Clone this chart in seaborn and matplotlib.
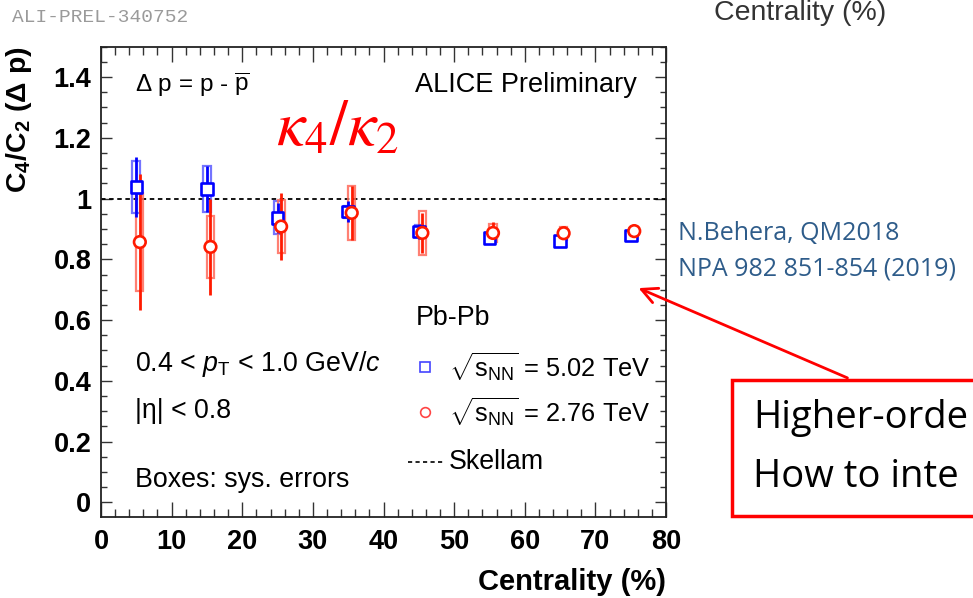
import numpy as np
import pandas as pd
import matplotlib
matplotlib.use("Agg")
import matplotlib.pyplot as plt
import seaborn as sns
from matplotlib.patches import Rectangle, FancyArrowPatch
from matplotlib.ticker import MultipleLocator

# ---- data: net-proton C4/C2 vs centrality ----
centrality = [5, 15, 25, 35, 45, 55, 65, 75]

c4c2_502 = [1.038, 1.032, 0.937, 0.957, 0.892, 0.870, 0.860, 0.879]
stat_502 = [0.100, 0.075, 0.050, 0.035, 0.025, 0.015, 0.012, 0.010]
sys_502 = [0.085, 0.075, 0.055, 0.020, 0.020, 0.015, 0.012, 0.010]

c4c2_276 = [0.857, 0.841, 0.908, 0.953, 0.887, 0.887, 0.886, 0.893]
stat_276 = [0.225, 0.157, 0.110, 0.090, 0.065, 0.037, 0.025, 0.012]
sys_276 = [0.160, 0.103, 0.086, 0.090, 0.072, 0.030, 0.022, 0.012]

skellam = 1.0

x_ticks = [0, 10, 20, 30, 40, 50, 60, 70, 80]
y_ticks = [0, 0.2, 0.4, 0.6, 0.8, 1.0, 1.2, 1.4]
y_tick_labels = ["0", "0.2", "0.4", "0.6", "0.8", "1", "1.2", "1.4"]

# ---- style ----
sns.set_theme(style="ticks")
plt.rcParams["font.family"] = ["Liberation Sans", "DejaVu Sans"]
plt.rcParams["mathtext.fontset"] = "custom"
plt.rcParams["mathtext.rm"] = "Liberation Sans"
plt.rcParams["mathtext.it"] = "Liberation Sans:italic"
plt.rcParams["mathtext.bf"] = "Liberation Sans:bold"
for key in ("text.color", "axes.labelcolor", "xtick.labelcolor", "ytick.labelcolor"):
    plt.rcParams[key] = "black"

BLUE = "#0000ff"
RED = "#ff1a00"
shift_276 = 0.5  # horizontal displacement of the 2.76 TeV points

df = pd.DataFrame({
    "centrality": centrality + [c + shift_276 for c in centrality],
    "value": c4c2_502 + c4c2_276,
    "stat": stat_502 + stat_276,
    "sys": sys_502 + sys_276,
    "energy": ["5.02"] * len(centrality) + ["2.76"] * len(centrality),
})

fig = plt.figure(figsize=(9.73, 5.98), dpi=100)
fig.patch.set_facecolor("white")
ax = fig.add_axes([0.1038, 0.1360, 0.5807, 0.7859])

# Skellam baseline
ax.axhline(skellam, color="black", lw=1.3, ls=(0, (2.5, 2)), zorder=1)

style = {
    "5.02": dict(color=BLUE, box="#5c5cff", half=0.55, lw_stat=2.0),
    "2.76": dict(color=RED, box="#ff6a5a", half=0.5, lw_stat=2.0),
}

for energy, sub in df.groupby("energy", sort=False):
    st = style[energy]
    # systematic boxes
    for xc, v, s in zip(sub["centrality"], sub["value"], sub["sys"]):
        ax.add_patch(Rectangle((xc - st["half"], v - s), 2 * st["half"], 2 * s,
                               fill=False, edgecolor=st["box"], lw=1.6,
                               alpha=0.85, zorder=2))
    # statistical bars
    ax.errorbar(sub["centrality"], sub["value"], yerr=sub["stat"], fmt="none",
                ecolor=st["color"], elinewidth=st["lw_stat"], capsize=0, zorder=3)

sns.scatterplot(data=df, x="centrality", y="value", hue="energy", style="energy",
                palette={"5.02": BLUE, "2.76": RED},
                markers={"5.02": "s", "2.76": "o"},
                s=70, linewidth=1.9, legend=False, ax=ax, zorder=4)
for coll in ax.collections:
    fc = coll.get_facecolors()
    if len(fc) and coll.get_offsets().shape[0] > 0 and not isinstance(coll, matplotlib.collections.LineCollection):
        coll.set_edgecolors(fc)
        coll.set_facecolors("white")

ax.set_xlim(0, 80)
ax.set_ylim(-0.047, 1.5)
ax.set_xticks(x_ticks)
ax.set_xticklabels([str(t) for t in x_ticks])
ax.set_yticks(y_ticks)
ax.set_yticklabels(y_tick_labels)
ax.xaxis.set_minor_locator(MultipleLocator(2))
ax.yaxis.set_minor_locator(MultipleLocator(0.05))
ax.tick_params(axis="both", which="both", direction="in", top=True, right=True,
               color="#333333", width=1.0)
ax.tick_params(axis="x", which="major", length=11, pad=9, labelsize=19.5)
ax.tick_params(axis="x", which="minor", length=5.5)
ax.tick_params(axis="y", which="major", length=8, pad=7, labelsize=19.5)
ax.tick_params(axis="y", which="minor", length=4)
for lab in ax.get_xticklabels() + ax.get_yticklabels():
    lab.set_fontweight("bold")
for sp in ax.spines.values():
    sp.set_color("#222222")
    sp.set_linewidth(1.3)

ax.set_xlabel("Centrality (%)", loc="right", fontsize=21, fontweight="bold",
              labelpad=9)
ax.set_ylabel(r"$\mathbf{C_{4}/C_{2}\ (\Delta\ p)}$", loc="top", fontsize=20.5,
              labelpad=14)

# annotations inside the frame
ax.text(4.8, 1.373, r"$\Delta$ p = p - $\overline{\mathrm{p}}$", fontsize=17.5,
        va="center", ha="left")
ax.text(44.5, 1.373, "ALICE Preliminary", fontsize=19.5, va="center", ha="left")
ax.text(4.8, 0.455, r"0.4 < $p_{\mathrm{T}}$ < 1.0 GeV/$c$", fontsize=19.3,
        va="center", ha="left")
ax.text(4.8, 0.30, "|η| < 0.8", fontsize=19.3, va="center", ha="left")
ax.text(4.8, 0.073, "Boxes: sys. errors", fontsize=19.3, va="center", ha="left")

# legend
ax.text(44.5, 0.606, "Pb-Pb", fontsize=19.3, va="center", ha="left")
ax.plot([45.9], [0.445], marker="s", ms=7, mfc="white", mec="#4444ff", mew=1.2,
        clip_on=False)
ax.text(49.3, 0.445, r"$\sqrt{\mathrm{s}_{\mathrm{NN}}}$ = 5.02 TeV", fontsize=18.3,
        va="center", ha="left")
ax.plot([45.9], [0.297], marker="o", ms=7, mfc="white", mec="#ff4444", mew=1.2,
        clip_on=False)
ax.text(49.3, 0.297, r"$\sqrt{\mathrm{s}_{\mathrm{NN}}}$ = 2.76 TeV", fontsize=18.3,
        va="center", ha="left")
ax.plot([43.5, 48.4], [0.132, 0.132], color="black", lw=1.2, ls=(0, (2.5, 2)))
ax.text(49.3, 0.132, "Skellam", fontsize=19.3, va="center", ha="left")

# slide elements around the figure
fig.text(12 / 973, 1 - 18 / 598, "ALI-PREL-340752", family="Liberation Mono",
         fontsize=14, color="#9a9a9a", va="center", ha="left")
fig.text(714 / 973, 1 - 13 / 598, "Centrality (%)", fontsize=20.5,
         color="#333333", va="center", ha="left")
fig.text(276 / 973, 1 - 146 / 598, r"$\kappa_4/\kappa_2$", fontsize=46,
         color="#ff0000", va="baseline", ha="left", math_fontfamily="stix")
fig.text(678 / 973, 1 - 240 / 598, "N.Behera, QM2018", family="Open Sans",
         fontsize=18, color="#2e5c8a", va="baseline", ha="left")
fig.text(678 / 973, 1 - 276 / 598, "NPA 982 851-854 (2019)", family="Open Sans",
         fontsize=18, color="#2e5c8a", va="baseline", ha="left")

fig.add_artist(Rectangle((732 / 973, 1 - 516 / 598), 0.35, 136 / 598,
                         transform=fig.transFigure, facecolor="white",
                         edgecolor="#ff0000", lw=2.5, zorder=5))
fig.text(753 / 973, 1 - 428 / 598, "Higher-orde", family="Open Sans",
         fontsize=27.5, color="black", va="baseline", ha="left", zorder=6)
fig.text(753 / 973, 1 - 487 / 598, "How to inte", family="Open Sans",
         fontsize=27.5, color="black", va="baseline", ha="left", zorder=6)
fig.add_artist(FancyArrowPatch((850 / 973, 1 - 379 / 598), (636 / 973, 1 - 287 / 598),
                               transform=fig.transFigure, arrowstyle="->",
                               mutation_scale=28, color="#ff0000", lw=2,
                               zorder=6))

fig.savefig("out.png", dpi=100, facecolor="white")
